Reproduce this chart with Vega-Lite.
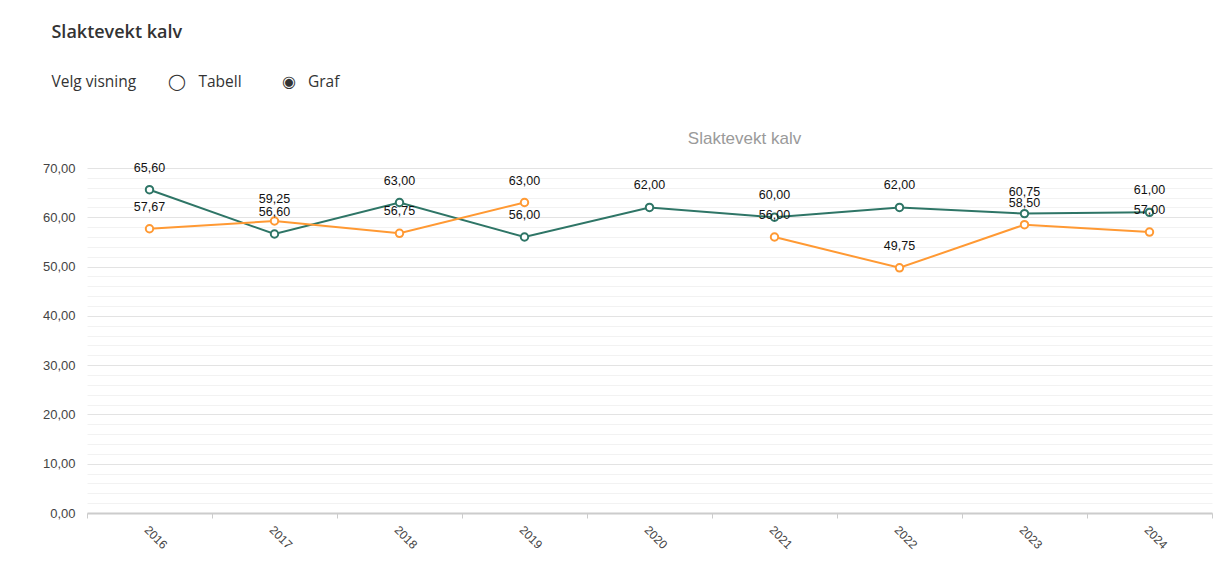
{
  "$schema": "https://vega.github.io/schema/vega-lite/v6.json",
  "background": "white",
  "padding": {"left": 42, "top": 24, "right": 0, "bottom": 0},
  "title": {
    "text": "Slaktevekt kalv",
    "subtitle": "Velg visning\u00a0\u00a0\u00a0\u00a0\u00a0\u00a0\u00a0\u00a0◯\u00a0\u00a0\u00a0Tabell\u00a0\u00a0\u00a0\u00a0\u00a0\u00a0\u00a0\u00a0\u00a0\u00a0◉\u00a0\u00a0\u00a0Graf",
    "anchor": "start",
    "frame": "bounds",
    "font": "Open Sans",
    "fontSize": 18,
    "fontWeight": 600,
    "color": "#333333",
    "subtitleFont": "Open Sans",
    "subtitleFontSize": 15.5,
    "subtitleColor": "#333333",
    "subtitlePadding": 33,
    "offset": 39,
    "dx": 9
  },
  "vconcat": [
    {
      "width": 1125,
      "height": 345,
      "title": {
        "text": "Slaktevekt kalv",
        "color": "#9a9a9a",
        "font": "Liberation Sans",
        "fontSize": 17,
        "fontWeight": "normal",
        "anchor": "middle",
        "dx": 95,
        "offset": 14
      },
      "data": {
        "values": [
          {"år": "2016", "serie": "Serie 1", "verdi": 65.6},
          {"år": "2017", "serie": "Serie 1", "verdi": 56.6},
          {"år": "2018", "serie": "Serie 1", "verdi": 63.0},
          {"år": "2019", "serie": "Serie 1", "verdi": 56.0},
          {"år": "2020", "serie": "Serie 1", "verdi": 62.0},
          {"år": "2021", "serie": "Serie 1", "verdi": 60.0},
          {"år": "2022", "serie": "Serie 1", "verdi": 62.0},
          {"år": "2023", "serie": "Serie 1", "verdi": 60.75},
          {"år": "2024", "serie": "Serie 1", "verdi": 61.0},
          {"år": "2016", "serie": "Serie 2", "verdi": 57.67},
          {"år": "2017", "serie": "Serie 2", "verdi": 59.25},
          {"år": "2018", "serie": "Serie 2", "verdi": 56.75},
          {"år": "2019", "serie": "Serie 2", "verdi": 63.0},
          {"år": "2020", "serie": "Serie 2", "verdi": null},
          {"år": "2021", "serie": "Serie 2", "verdi": 56.0},
          {"år": "2022", "serie": "Serie 2", "verdi": 49.75},
          {"år": "2023", "serie": "Serie 2", "verdi": 58.5},
          {"år": "2024", "serie": "Serie 2", "verdi": 57.0}
        ]
      },
      "encoding": {
        "x": {
          "field": "år",
          "type": "ordinal",
          "scale": {"paddingInner": 0, "paddingOuter": 0},
          "axis": {
            "title": null,
            "labelAngle": 45,
            "tickBand": "extent",
            "tickSize": 5,
            "tickColor": "#cccccc",
            "domainColor": "#cccccc",
            "domainWidth": 2,
            "labelFont": "Liberation Sans",
            "labelFontSize": 12,
            "labelColor": "#444444",
            "labelPadding": 6,
            "grid": false
          }
        },
        "y": {
          "field": "verdi",
          "type": "quantitative",
          "scale": {"domain": [0, 70], "nice": false},
          "axis": {
            "title": null,
            "values": [0, 2, 4, 6, 8, 10, 12, 14, 16, 18, 20, 22, 24, 26, 28, 30, 32, 34, 36, 38, 40, 42, 44, 46, 48, 50, 52, 54, 56, 58, 60, 62, 64, 66, 68, 70],
            "format": ".2f",
            "labelExpr": "datum.value % 10 === 0 ? datum.label : ''",
            "labelOverlap": false,
            "ticks": false,
            "domain": false,
            "grid": true,
            "gridColor": {"condition": {"test": "datum.value % 10 === 0", "value": "#e3e3e3"}, "value": "#f2f2f2"},
            "labelPadding": 12,
            "labelFont": "Liberation Sans",
            "labelFontSize": 13,
            "labelColor": "#444444"
          }
        },
        "color": {
          "field": "serie",
          "type": "nominal",
          "scale": {"domain": ["Serie 1", "Serie 2"], "range": ["#2e7566", "#ff9933"]},
          "legend": null
        }
      },
      "layer": [
        {"mark": {"type": "line", "strokeWidth": 2, "invalid": "break-paths-filter-domains"}},
        {"mark": {"type": "point", "filled": false, "fill": "white", "strokeWidth": 2, "size": 55, "opacity": 1}},
        {
          "mark": {"type": "text", "dy": -22, "font": "Liberation Sans", "fontSize": 12.5},
          "encoding": {
            "text": {"field": "verdi", "type": "quantitative", "format": ".2f"},
            "color": {"value": "#111111"}
          }
        }
      ]
    }
  ],
  "config": {
    "view": {"stroke": null},
    "locale": {"number": {"decimal": ",", "thousands": " ", "grouping": [3], "currency": ["", " kr"]}}
  }
}
